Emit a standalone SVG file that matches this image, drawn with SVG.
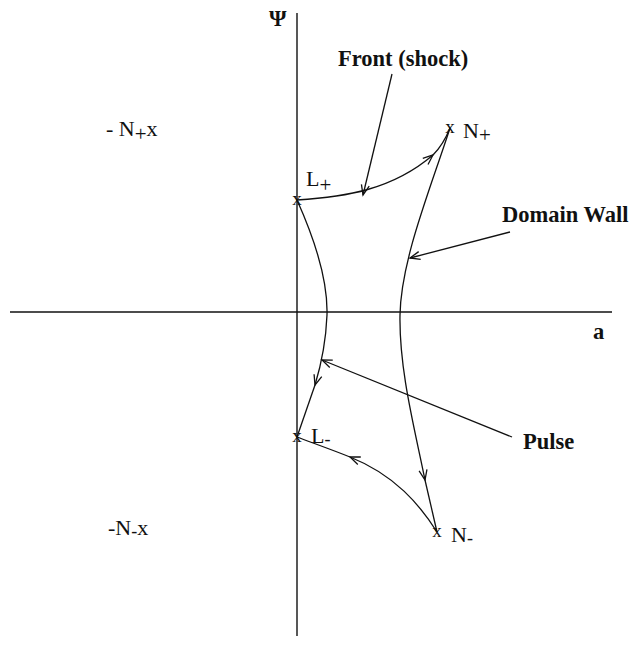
<svg xmlns="http://www.w3.org/2000/svg" width="632" height="645" viewBox="0 0 632 645">
<style>
.ln{fill:none;stroke:#111;stroke-width:1.3}
.ax{fill:none;stroke:#111;stroke-width:1.4}
.lb{font-family:"Liberation Serif","Times New Roman",serif;font-size:22px;fill:#111}
.bl{font-family:"Liberation Serif","Times New Roman",serif;font-size:22.5px;font-weight:bold;fill:#111}
.pt{font-family:"Liberation Serif","Times New Roman",serif;font-size:19px;fill:#111;text-anchor:middle}
</style>
<defs>
<marker id="ar" viewBox="-12 -6 14 12" markerWidth="14" markerHeight="12" refX="0" refY="0" markerUnits="userSpaceOnUse" orient="auto">
<path d="M-10,-4 L0,0 L-10,4" fill="none" stroke="#111" stroke-width="1.3"/>
</marker>
</defs>
<rect width="632" height="645" fill="#fff"/>
<g id="axes">
<line class="ax" x1="297" y1="13" x2="297" y2="636"/>
<line class="ax" x1="10" y1="312" x2="612" y2="312"/>
<text class="bl" x="269" y="26">Ψ</text>
<text class="bl" x="593" y="339">a</text>
</g>
<g id="connectors">
<path class="ln" d="M297,200 C345,197 392,190 433,155" marker-end="url(#ar)"/>
<path class="ln" d="M433,155 C440,148 446,138 450,128"/>
<path class="ln" d="M450,128 C430,190 401,260 400,315 C399,370 415,430 425,480" marker-end="url(#ar)"/>
<path class="ln" d="M425,480 L437,532"/>
<path class="ln" d="M297,200 C315,240 328,280 327,315 C326,340 322,362 315,385" marker-end="url(#ar)"/>
<path class="ln" d="M315,385 L297,437"/>
<path class="ln" d="M437,532 C420,505 395,475 350,457" marker-end="url(#ar)"/>
<path class="ln" d="M350,457 C330,449 310,442 297,437"/>
<line class="ln" x1="392" y1="74" x2="363" y2="195" marker-end="url(#ar)"/>
<line class="ln" x1="510" y1="232" x2="410" y2="258" marker-end="url(#ar)"/>
<line class="ln" x1="512" y1="437" x2="322" y2="360" marker-end="url(#ar)"/>
</g>
<g id="node-Nplus">
<text class="pt" x="450" y="133">x</text>
<text class="lb" x="463" y="138">N<tspan font-size="21" dy="4">+</tspan></text>
</g>
<g id="node-Lplus">
<text class="pt" x="297" y="205">x</text>
<text class="lb" x="306" y="186">L<tspan font-size="21" dy="6">+</tspan></text>
</g>
<g id="node-Lminus">
<text class="pt" x="297" y="442">x</text>
<text class="lb" x="311" y="443">L<tspan font-size="18" dy="2">-</tspan></text>
</g>
<g id="node-Nminus">
<text class="pt" x="437" y="537">x</text>
<text class="lb" x="451" y="542">N<tspan font-size="18" dy="2">-</tspan></text>
</g>
<g id="node-negNplus">
<text class="lb" x="106" y="136">- N<tspan font-size="21" dy="5">+</tspan><tspan dy="-5">x</tspan></text>
</g>
<g id="node-negNminus">
<text class="lb" x="108" y="535">-N<tspan font-size="18" dy="2">-</tspan><tspan dy="-2">x</tspan></text>
</g>
<g id="label-front">
<text class="bl" x="338" y="66">Front (shock)</text>
</g>
<g id="label-domain">
<text class="bl" x="502" y="222">Domain Wall</text>
</g>
<g id="label-pulse">
<text class="bl" x="523" y="449">Pulse</text>
</g>
</svg>
